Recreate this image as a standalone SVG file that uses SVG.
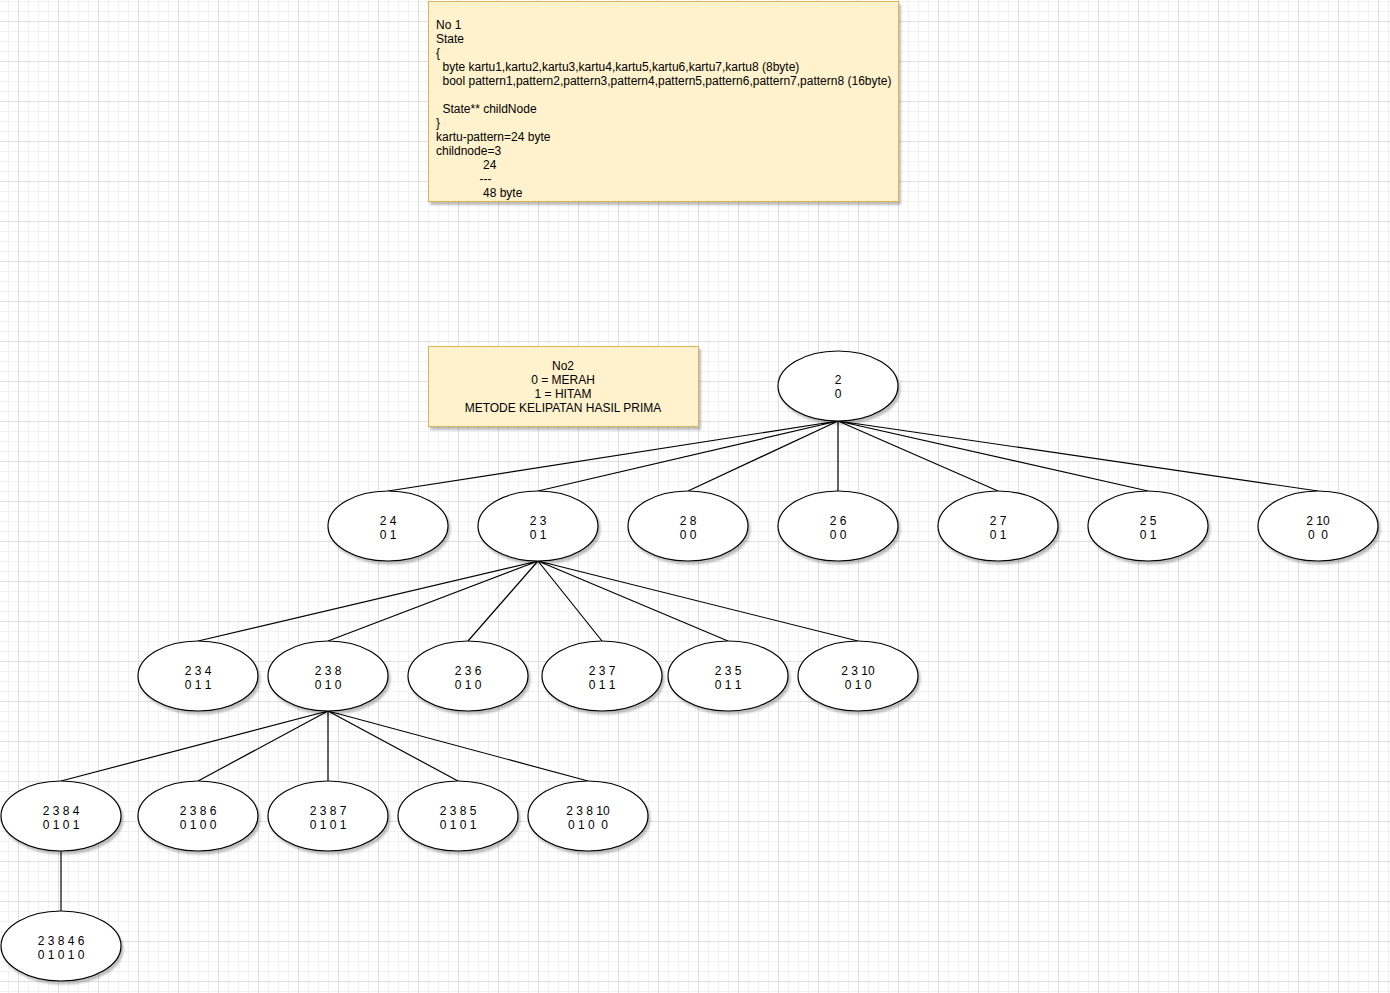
<svg xmlns="http://www.w3.org/2000/svg" width="1390" height="993" viewBox="0 0 1390 993">
<style>
.note{fill:#fff2cc;stroke:#d6b656;stroke-width:1}
.nd{fill:#ffffff;stroke:#000000;stroke-width:1.2}
.t{font-family:"Liberation Sans",Arial,sans-serif;font-size:12px;fill:#000}
.c{text-anchor:middle}
.e{stroke:#000;stroke-width:1.2;fill:none}
</style>
<defs>
<pattern id="grid" x="18" y="21" width="40" height="40" patternUnits="userSpaceOnUse">
<path d="M10.5 0V40M20.5 0V40M30.5 0V40M0 10.5H40M0 20.5H40M0 30.5H40" stroke="#f1f1f1" stroke-width="1"/>
<path d="M0.5 0V40M0 0.5H40" stroke="#dedede" stroke-width="1"/>
</pattern>
<filter id="sh" x="-10%" y="-10%" width="130%" height="140%">
<feDropShadow dx="2" dy="3" stdDeviation="1.2" flood-color="#000" flood-opacity="0.25"/>
</filter>
</defs>
<rect width="1390" height="993" fill="#ffffff"/>
<rect width="1390" height="993" fill="url(#grid)"/>

<g id="note1">
<rect class="note" x="428.5" y="1.5" width="470" height="200" filter="url(#sh)"/>
<text class="t" x="436" y="29">No 1</text>
<text class="t" x="436" y="43">State</text>
<text class="t" x="436" y="57">{</text>
<text class="t" x="442.5" y="71">byte kartu1,kartu2,kartu3,kartu4,kartu5,kartu6,kartu7,kartu8 (8byte)</text>
<text class="t" x="442.5" y="85">bool pattern1,pattern2,pattern3,pattern4,pattern5,pattern6,pattern7,pattern8 (16byte)</text>
<text class="t" x="442.5" y="113">State** childNode</text>
<text class="t" x="436" y="127">}</text>
<text class="t" x="436" y="141">kartu-pattern=24 byte</text>
<text class="t" x="436" y="155">childnode=3</text>
<text class="t" x="483" y="169">24</text>
<text class="t" x="479.5" y="183">---</text>
<text class="t" x="483" y="197">48 byte</text>
</g>

<g id="note2">
<rect class="note" x="428.5" y="346.5" width="270" height="80" filter="url(#sh)"/>
<text class="t c" x="563" y="370">No2</text>
<text class="t c" x="563" y="384">0 = MERAH</text>
<text class="t c" x="563" y="398">1 = HITAM</text>
<text class="t c" x="563" y="412">METODE KELIPATAN HASIL PRIMA</text>
</g>

<g id="connectors">
<path class="e" d="M838 421L388 491M838 421L538 491M838 421L688 491M838 421L838 491M838 421L998 491M838 421L1148 491M838 421L1318 491"/>
<path class="e" d="M538 561L198 641M538 561L328 641M538 561L468 641M538 561L602 641M538 561L728 641M538 561L858 641"/>
<path class="e" d="M328 711L61 781M328 711L198 781M328 711L328 781M328 711L458 781M328 711L588 781"/>
<path class="e" d="M61 851L61 911"/>
</g>

<g id="n_2"><ellipse class="nd" cx="838" cy="386" rx="60" ry="35" filter="url(#sh)"/><text class="t c" x="838" y="384">2</text><text class="t c" x="838" y="398">0</text></g>

<g id="n_24"><ellipse class="nd" cx="388" cy="526" rx="60" ry="35" filter="url(#sh)"/><text class="t c" x="388" y="525">2 4</text><text class="t c" x="388" y="539">0 1</text></g>
<g id="n_23"><ellipse class="nd" cx="538" cy="526" rx="60" ry="35" filter="url(#sh)"/><text class="t c" x="538" y="525">2 3</text><text class="t c" x="538" y="539">0 1</text></g>
<g id="n_28"><ellipse class="nd" cx="688" cy="526" rx="60" ry="35" filter="url(#sh)"/><text class="t c" x="688" y="525">2 8</text><text class="t c" x="688" y="539">0 0</text></g>
<g id="n_26"><ellipse class="nd" cx="838" cy="526" rx="60" ry="35" filter="url(#sh)"/><text class="t c" x="838" y="525">2 6</text><text class="t c" x="838" y="539">0 0</text></g>
<g id="n_27"><ellipse class="nd" cx="998" cy="526" rx="60" ry="35" filter="url(#sh)"/><text class="t c" x="998" y="525">2 7</text><text class="t c" x="998" y="539">0 1</text></g>
<g id="n_25"><ellipse class="nd" cx="1148" cy="526" rx="60" ry="35" filter="url(#sh)"/><text class="t c" x="1148" y="525">2 5</text><text class="t c" x="1148" y="539">0 1</text></g>
<g id="n_210"><ellipse class="nd" cx="1318" cy="526" rx="60" ry="35" filter="url(#sh)"/><text class="t c" x="1318" y="525">2 10</text><text class="t c" x="1318" y="539" xml:space="preserve">0  0</text></g>

<g id="n_234"><ellipse class="nd" cx="198" cy="676" rx="60" ry="35" filter="url(#sh)"/><text class="t c" x="198" y="675">2 3 4</text><text class="t c" x="198" y="689">0 1 1</text></g>
<g id="n_238"><ellipse class="nd" cx="328" cy="676" rx="60" ry="35" filter="url(#sh)"/><text class="t c" x="328" y="675">2 3 8</text><text class="t c" x="328" y="689">0 1 0</text></g>
<g id="n_236"><ellipse class="nd" cx="468" cy="676" rx="60" ry="35" filter="url(#sh)"/><text class="t c" x="468" y="675">2 3 6</text><text class="t c" x="468" y="689">0 1 0</text></g>
<g id="n_237"><ellipse class="nd" cx="602" cy="676" rx="60" ry="35" filter="url(#sh)"/><text class="t c" x="602" y="675">2 3 7</text><text class="t c" x="602" y="689">0 1 1</text></g>
<g id="n_235"><ellipse class="nd" cx="728" cy="676" rx="60" ry="35" filter="url(#sh)"/><text class="t c" x="728" y="675">2 3 5</text><text class="t c" x="728" y="689">0 1 1</text></g>
<g id="n_2310"><ellipse class="nd" cx="858" cy="676" rx="60" ry="35" filter="url(#sh)"/><text class="t c" x="858" y="675">2 3 10</text><text class="t c" x="858" y="689">0 1 0</text></g>

<g id="n_2384"><ellipse class="nd" cx="61" cy="816" rx="60" ry="35" filter="url(#sh)"/><text class="t c" x="61" y="815">2 3 8 4</text><text class="t c" x="61" y="829">0 1 0 1</text></g>
<g id="n_2386"><ellipse class="nd" cx="198" cy="816" rx="60" ry="35" filter="url(#sh)"/><text class="t c" x="198" y="815">2 3 8 6</text><text class="t c" x="198" y="829">0 1 0 0</text></g>
<g id="n_2387"><ellipse class="nd" cx="328" cy="816" rx="60" ry="35" filter="url(#sh)"/><text class="t c" x="328" y="815">2 3 8 7</text><text class="t c" x="328" y="829">0 1 0 1</text></g>
<g id="n_2385"><ellipse class="nd" cx="458" cy="816" rx="60" ry="35" filter="url(#sh)"/><text class="t c" x="458" y="815">2 3 8 5</text><text class="t c" x="458" y="829">0 1 0 1</text></g>
<g id="n_23810"><ellipse class="nd" cx="588" cy="816" rx="60" ry="35" filter="url(#sh)"/><text class="t c" x="588" y="815">2 3 8 10</text><text class="t c" x="588" y="829" xml:space="preserve">0 1 0  0</text></g>

<g id="n_23846"><ellipse class="nd" cx="61" cy="946" rx="60" ry="35" filter="url(#sh)"/><text class="t c" x="61" y="945">2 3 8 4 6</text><text class="t c" x="61" y="959">0 1 0 1 0</text></g>
</svg>
